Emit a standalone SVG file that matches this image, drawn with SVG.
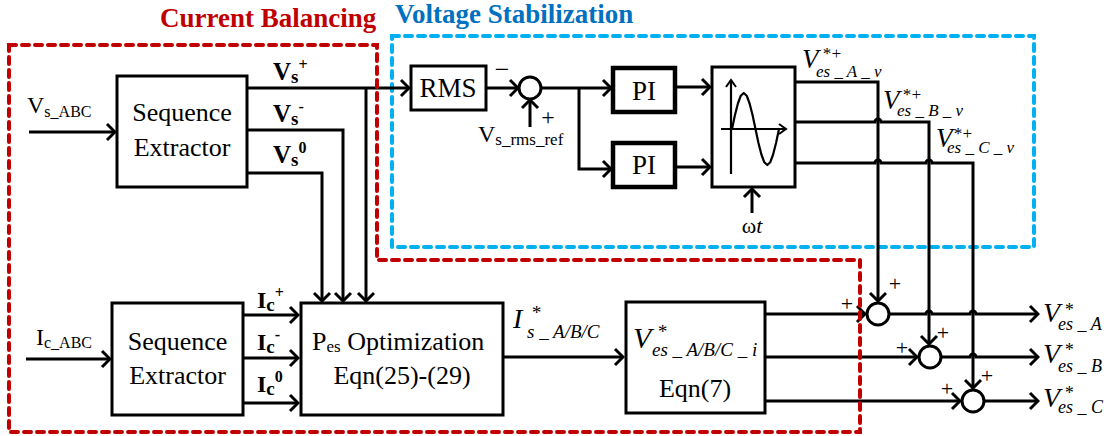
<svg xmlns="http://www.w3.org/2000/svg" width="1104" height="436" viewBox="0 0 1104 436">
<style>
.t{text-anchor:middle}
.b{font-weight:bold}
.i{font-style:italic}
.ln{fill:none;stroke:#000;stroke-width:3}
.bx{fill:#fff;stroke:#000;stroke-width:3}
.pi{fill:#fff;stroke:#000;stroke-width:4.5}
.sm{fill:#fff;stroke:#000;stroke-width:3}
.ar{marker-end:url(#ah)}
.dash{fill:none;stroke-width:4;stroke-dasharray:7 6;stroke-linecap:round}
</style>
<defs>
<marker id="ah" viewBox="0 0 12 20" refX="10" refY="10" markerWidth="12" markerHeight="20" orient="auto" markerUnits="userSpaceOnUse">
<path d="M2,2 L10,10 L2,18" fill="none" stroke="#000" stroke-width="3"/>
</marker>
<marker id="sa" viewBox="0 0 10 12" refX="8" refY="6" markerWidth="10" markerHeight="12" orient="auto" markerUnits="userSpaceOnUse">
<path d="M1,1 L8,6 L1,11" fill="none" stroke="#000" stroke-width="2"/>
</marker>
</defs>
<rect width="1104" height="436" fill="#fff"/>

<g id="voltage-region">
<path class="dash" d="M392,36 H1034 V247 H392 Z" stroke="#00B0F0"/>
<text x="395" y="23" font-family="Liberation Serif" font-size="27" font-weight="bold" fill="#0070C0">Voltage Stabilization</text>
</g>

<g id="connectors">
<path class="ln ar" d="M29,132 H115"/>
<path class="ln ar" d="M247,88 H409"/>
<path class="ln ar" d="M366,88 V301"/>
<path class="ln ar" d="M247,130 H343 V301"/>
<path class="ln ar" d="M247,173 H322 V301"/>
<path class="ln ar" d="M26,359 H110"/>
<path class="ln ar" d="M243,315 H298"/>
<path class="ln ar" d="M243,358 H298"/>
<path class="ln ar" d="M243,403 H298"/>
<path class="ln ar" d="M503,357 H623"/>
<path class="ln ar" d="M486,88 H518"/>
<path class="ln ar" d="M530,127 V100"/>
<path class="ln ar" d="M541,88 H611"/>
<path class="ln ar" d="M579,88 V169 H611"/>
<path class="ln ar" d="M675,87 H710"/>
<path class="ln ar" d="M675,167 H710"/>
<path class="ln ar" d="M752,213 V189"/>
<path class="ln ar" d="M795,82 H878 V301"/>
<path class="ln ar" d="M795,122 H875 a3,3 0 0 1 6,0 H929 V344"/>
<path class="ln ar" d="M795,163 H875 a3,3 0 0 1 6,0 H926 a3,3 0 0 1 6,0 H973 V388"/>
<path class="ln ar" d="M765,314 H865"/>
<path class="ln ar" d="M765,357 H917"/>
<path class="ln ar" d="M765,401 H960"/>
<path class="ln ar" d="M889,314 H926 a3,3 0 0 1 6,0 H970 a3,3 0 0 1 6,0 H1038"/>
<path class="ln ar" d="M941,357 H970 a3,3 0 0 1 6,0 H1038"/>
<path class="ln ar" d="M984,401 H1038"/>
</g>

<g id="current-region">
<path class="dash" d="M9,45 H377 V260 H860 V432 H9 Z" stroke="#C00000"/>
<text x="160" y="27" font-family="Liberation Serif" font-size="27" font-weight="bold" fill="#C00000">Current Balancing</text>
</g>

<g id="seq1">
<rect class="bx" x="117" y="76" width="130" height="111"/>
<text class="t" x="182" y="121" font-family="Liberation Serif" font-size="26">Sequence</text>
<text class="t" x="182" y="156" font-family="Liberation Serif" font-size="26">Extractor</text>
</g>
<g id="seq2">
<rect class="bx" x="112" y="303" width="131" height="112"/>
<text class="t" x="177.5" y="350" font-family="Liberation Serif" font-size="26">Sequence</text>
<text class="t" x="177.5" y="384" font-family="Liberation Serif" font-size="26">Extractor</text>
</g>
<g id="pes">
<rect class="bx" x="301" y="303" width="202" height="112"/>
<text x="312" y="350" font-family="Liberation Serif" font-size="26">P<tspan font-size="17" dy="2">es</tspan><tspan dy="-2"> Optimization</tspan></text>
<text class="t" x="402" y="384" font-family="Liberation Serif" font-size="26">Eqn(25)-(29)</text>
</g>
<g id="veq">
<rect class="bx" x="626" y="302" width="139" height="111"/>
<text class="i" x="633" y="348" font-family="Liberation Serif" font-size="30">V<tspan x="657" y="338" font-size="19">*</tspan><tspan x="652" y="356" font-size="19">es _ A/B/C _ i</tspan></text>
<text class="t" x="695" y="397" font-family="Liberation Serif" font-size="26">Eqn(7)</text>
</g>
<g id="rms">
<rect class="bx" x="411" y="66" width="75" height="44"/>
<text class="t" x="448" y="97" font-family="Liberation Serif" font-size="27">RMS</text>
</g>
<g id="sum0">
<circle class="sm" cx="530" cy="88" r="11"/>
<text x="502" y="78" font-family="Liberation Serif" font-size="26" text-anchor="middle">−</text>
<text x="548" y="125" font-family="Liberation Serif" font-size="24" text-anchor="middle">+</text>
</g>
<g id="pi1">
<rect class="pi" x="613" y="68" width="62" height="44"/>
<text class="t" x="644" y="100" font-family="Liberation Serif" font-size="27">PI</text>
</g>
<g id="pi2">
<rect class="pi" x="613" y="143" width="62" height="44"/>
<text class="t" x="644" y="174" font-family="Liberation Serif" font-size="27">PI</text>
</g>
<g id="sine">
<rect class="bx" x="712" y="67" width="83" height="120"/>
<path d="M731,174 V80" fill="none" stroke="#000" stroke-width="2.2" marker-end="url(#sa)"/>
<path d="M721,129 H786" fill="none" stroke="#000" stroke-width="2.2" marker-end="url(#sa)"/>
<polyline fill="none" stroke="#000" stroke-width="2.2" stroke-linejoin="round" points="732,129 734.9,115.2 737.9,103.5 740.8,95.7 743.8,93 746.7,95.7 749.6,103.5 752.6,115.2 755.5,129 758.4,142.8 761.4,154.5 764.3,162.3 767.3,165 770.2,162.3 773.1,154.5 776.1,142.8 779,129"/>
<text x="752" y="233" font-family="Liberation Serif" font-size="22" text-anchor="middle">ω<tspan font-style="italic">t</tspan></text>
</g>
<g id="sumA">
<circle class="sm" cx="878" cy="314" r="11"/>
<text x="895" y="291" font-family="Liberation Serif" font-size="22" text-anchor="middle">+</text>
<text x="847" y="311" font-family="Liberation Serif" font-size="22" text-anchor="middle">+</text>
</g>
<g id="sumB">
<circle class="sm" cx="930" cy="357" r="11"/>
<text x="943" y="340" font-family="Liberation Serif" font-size="22" text-anchor="middle">+</text>
<text x="902" y="355" font-family="Liberation Serif" font-size="22" text-anchor="middle">+</text>
</g>
<g id="sumC">
<circle class="sm" cx="973" cy="401" r="11"/>
<text x="987" y="383" font-family="Liberation Serif" font-size="22" text-anchor="middle">+</text>
<text x="947" y="396" font-family="Liberation Serif" font-size="22" text-anchor="middle">+</text>
</g>

<g id="labels">
<text x="27" y="113" font-family="Liberation Serif" font-size="24">V<tspan font-size="16" dy="4">s_ABC</tspan></text>
<text x="36" y="345" font-family="Liberation Serif" font-size="24">I<tspan font-size="16" dy="3">c_ABC</tspan></text>
<text x="478" y="142" font-family="Liberation Serif" font-size="24">V<tspan font-size="17" dy="3">s_rms_ref</tspan></text>
<text class="b" x="273" y="80" font-family="Liberation Serif" font-size="25">V<tspan font-size="19" dy="3">s</tspan><tspan font-size="16" dy="-13">+</tspan></text>
<text class="b" x="273" y="122" font-family="Liberation Serif" font-size="25">V<tspan font-size="19" dy="3">s</tspan><tspan font-size="16" dy="-13">-</tspan></text>
<text class="b" x="273" y="163" font-family="Liberation Serif" font-size="25">V<tspan font-size="19" dy="3">s</tspan><tspan font-size="16" dy="-13">0</tspan></text>
<text class="b" x="257" y="308" font-family="Liberation Serif" font-size="24">I<tspan font-size="19" dy="3">c</tspan><tspan font-size="16" dy="-13">+</tspan></text>
<text class="b" x="257" y="350" font-family="Liberation Serif" font-size="24">I<tspan font-size="19" dy="3">c</tspan><tspan font-size="16" dy="-13">-</tspan></text>
<text class="b" x="257" y="392" font-family="Liberation Serif" font-size="24">I<tspan font-size="19" dy="3">c</tspan><tspan font-size="16" dy="-13">0</tspan></text>
<text class="i" x="513" y="328" font-family="Liberation Serif" font-size="28">I<tspan x="531" y="319" font-size="19">*</tspan><tspan x="527" y="338" font-size="19">s _ A/B/C</tspan></text>
<text class="i" x="802" y="68" font-family="Liberation Serif" font-size="27">V<tspan x="822" y="59" font-size="17">*+</tspan><tspan x="816" y="77" font-size="17">es _ A _ v</tspan></text>
<text class="i" x="883" y="109" font-family="Liberation Serif" font-size="27">V<tspan x="902" y="100" font-size="17">*+</tspan><tspan x="897" y="116" font-size="17">es _ B _ v</tspan></text>
<text class="i" x="936" y="147" font-family="Liberation Serif" font-size="27">V<tspan x="953" y="139" font-size="17">*+</tspan><tspan x="947" y="153" font-size="17">es _ C _ v</tspan></text>
<text class="i" x="1043" y="322" font-family="Liberation Serif" font-size="28">V<tspan x="1064" y="316" font-size="18">*</tspan><tspan x="1058" y="330" font-size="18">es _ A</tspan></text>
<text class="i" x="1043" y="363" font-family="Liberation Serif" font-size="28">V<tspan x="1064" y="356" font-size="18">*</tspan><tspan x="1058" y="372" font-size="18">es _ B</tspan></text>
<text class="i" x="1043" y="407" font-family="Liberation Serif" font-size="28">V<tspan x="1064" y="399" font-size="18">*</tspan><tspan x="1058" y="413" font-size="18">es _ C</tspan></text>
</g>
</svg>
